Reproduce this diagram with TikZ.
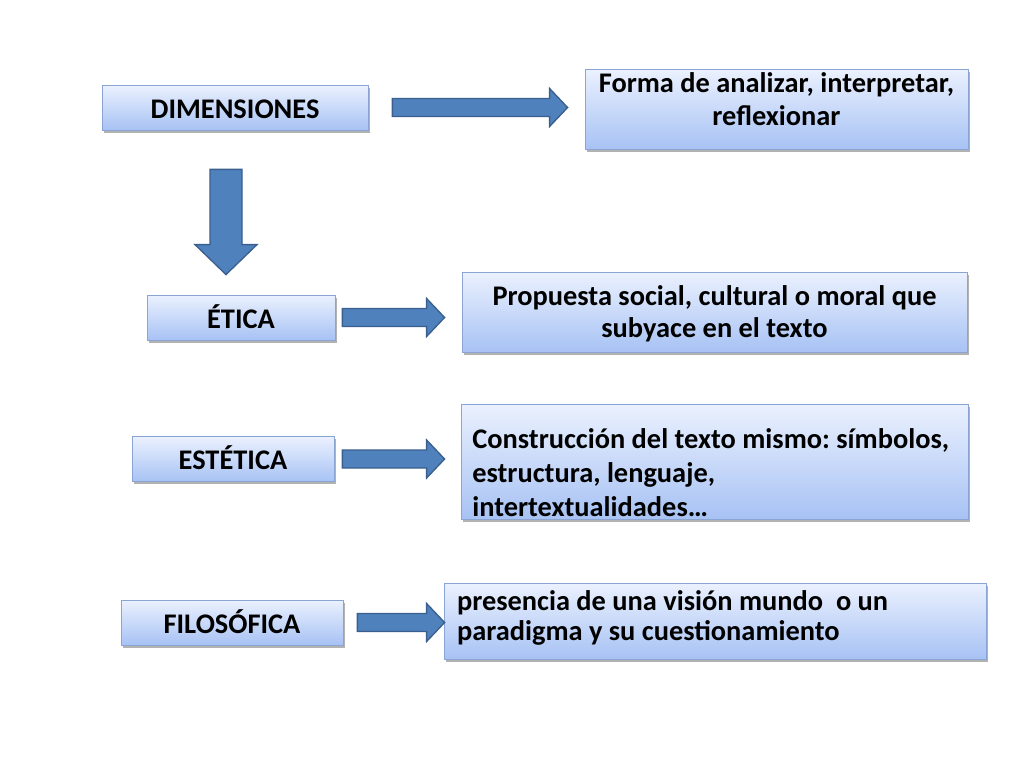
\documentclass[tikz,border=0pt]{standalone}
\usepackage{fontspec}
\setmainfont{Carlito}
\frenchspacing
\usetikzlibrary{calc,shadows}
\definecolor{BoxTop}{HTML}{EBF1FE}
\definecolor{BoxBot}{HTML}{A7C2F4}
\definecolor{BoxLine}{HTML}{8AA4D4}
\definecolor{ArrFill}{HTML}{4F81BD}
\definecolor{ArrLine}{HTML}{3A5F8E}
\tikzset{
  box/.style={rectangle,draw=BoxLine,line width=.6pt,top color=BoxTop,bottom color=BoxBot,
    drop shadow={shadow xshift=1.4pt,shadow yshift=-2pt,opacity=.3,fill=black},
    inner sep=0pt,font=\fontsize{21.3}{25}\selectfont\bfseries},
  tag/.style={box,align=flush center,text height=24.75pt,text depth=9pt},
  note/.style={box,align=flush center},
  leftnote/.style={box,align=flush left,inner xsep=8.5pt},
  harrow/.style={draw=ArrLine,fill=ArrFill,line width=1pt,
    to path={let \p1=(\tikztostart),\p2=(\tikztotarget) in
      (\x1,\y1+6.75pt) -- (\x2-13.5pt,\y1+6.75pt) -- (\x2-13.5pt,\y1+14.25pt) -- (\x2,\y1)
      -- (\x2-13.5pt,\y1-14.25pt) -- (\x2-13.5pt,\y1-6.75pt) -- (\x1,\y1-6.75pt) -- cycle}},
  varrow/.style={draw=ArrLine,fill=ArrFill,line width=1pt,
    to path={let \p1=(\tikztostart),\p2=(\tikztotarget) in
      (\x1-12pt,\y1) -- (\x1-12pt,\y2+22.5pt) -- (\x1-23.25pt,\y2+22.5pt) -- (\x1,\y2)
      -- (\x1+23.25pt,\y2+22.5pt) -- (\x1+12pt,\y2+22.5pt) -- (\x1+12pt,\y1) -- cycle}}
}
\begin{document}
\begin{tikzpicture}[x=.75pt,y=-.75pt]
  \useasboundingbox (0,0) rectangle (1024,768);

  \node[tag,minimum width=199.5pt] (dim) at (235,107.5) {DIMENSIONES};
  \node[tag,minimum width=141pt] (etica) at (241,317.5) {ÉTICA};
  \node[tag,minimum width=151.5pt] (estetica) at (233,459) {ESTÉTICA};
  \node[tag,minimum width=166.5pt] (filo) at (232,622.5) {FILOSÓFICA};

  \node[note,text width=287.25pt,text height=17.25pt,text depth=42.75pt] (forma) at (776.5,109)
    {Forma de analizar, interpretar,\\[-.1pt] reflexionar};
  \node[note,text width=378.75pt,text height=24.75pt,text depth=35.25pt] (propuesta) at (714.5,312)
    {Propuesta social, cultural o moral que\\[-1pt] subyace en el texto};
  \node[leftnote,text width=363.25pt,text height=33pt,text depth=53.25pt] (construccion) at (714.5,461.5)
    {Construcción del texto mismo: símbolos,\\[.5pt] estructura, lenguaje,\\[.5pt] intertextualidades…};
  \node[leftnote,inner xsep=9.75pt,text width=387pt,text height=20.25pt,text depth=36.75pt] (presencia) at (715,621)
    {presencia de una visión mundo\ \ o un\\[-2.5pt] paradigma y su cuestionamiento};

  \draw[harrow] ($(dim.east)+(24,0)$) to ($(forma.west)+(-17,0)$);
  \draw[varrow] ($(dim.south)+(-9,39)$) to ($(etica.north)+(-15,-20)$);
  \draw[harrow] ($(etica.east)+(7,0)$) to ($(propuesta.west)+(-17,0)$);
  \draw[harrow] ($(estetica.east)+(8,0)$) to ($(construccion.west)+(-16,0)$);
  \draw[harrow] ($(filo.east)+(14,0)$) to ($(presencia.west)+(1,0)$);
\end{tikzpicture}
\end{document}
